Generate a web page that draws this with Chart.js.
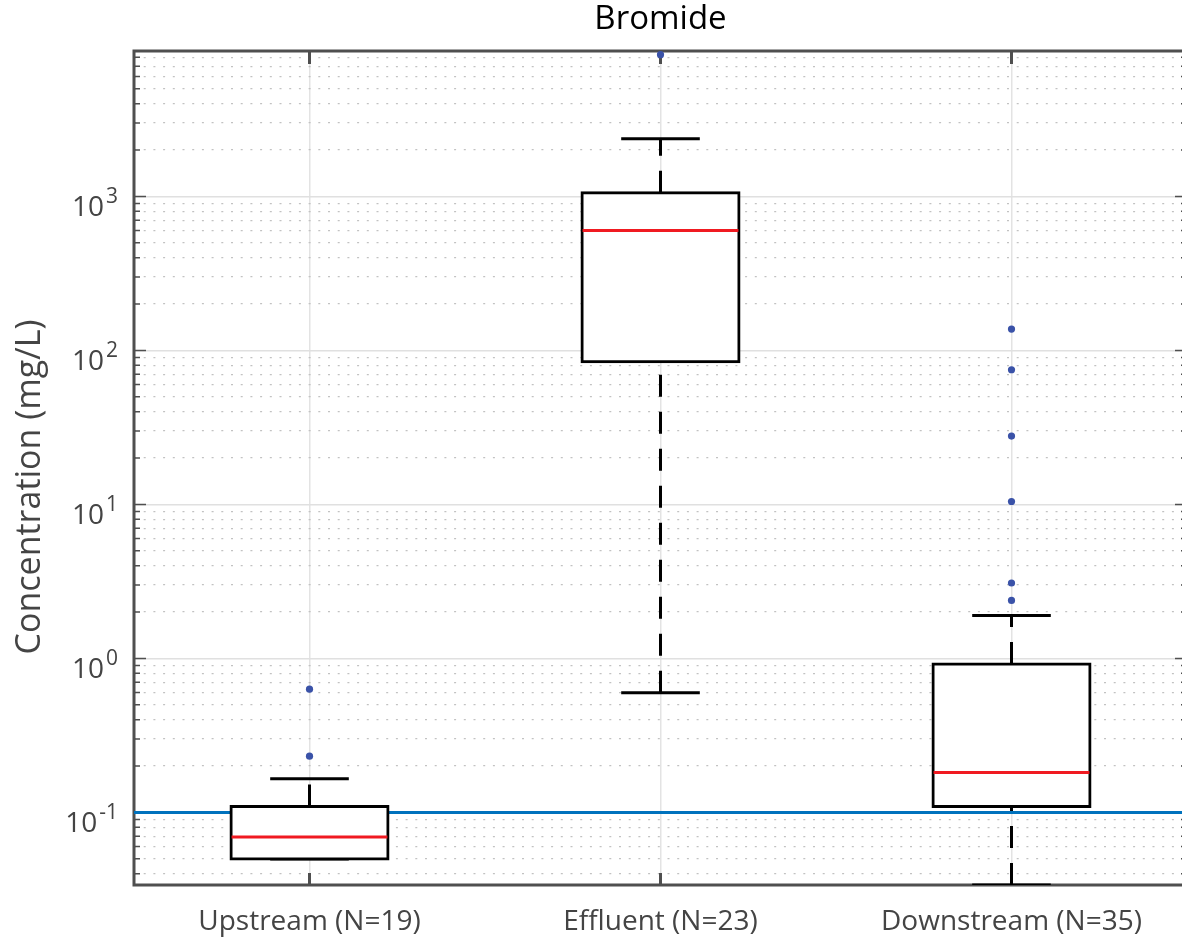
<!DOCTYPE html>
<html>
<head>
<meta charset="utf-8">
<title>Bromide</title>
<script src="https://cdn.jsdelivr.net/npm/chart.js@4/dist/chart.umd.min.js"></script>
<style>
  html, body { margin: 0; padding: 0; background: #fff; overflow: hidden; }
  #wrap { width: 1200px; height: 940px; }
</style>
</head>
<body>
<div id="wrap"><canvas id="chart" width="1200" height="940"></canvas></div>
<script>
// Sites and box-plot statistics, Bromide (mg/L)
const sites = ['Upstream (N=19)', 'Effluent (N=23)', 'Downstream (N=35)'];
const lowerWhisker = [0.0498, 0.598, 0.0338];
const q1 = [0.0498, 84.5, 0.1094];
const median = [0.0692, 601, 0.182];
const q3 = [0.1094, 1057, 0.920];
const upperWhisker = [0.1655, 2372, 1.90];
const outliers = [
    [0.632, 0.232],
    [8320],
    [137.7, 74.9, 27.8, 10.45, 3.09, 2.38]
];
const referenceLevel = 0.1;
const yMin = 0.0338;
const yMax = 8795;
const majorTicks = [0.1, 1, 10, 100, 1000];

const capHalf = 0.112;
const medianHalf = 0.222;

Chart.defaults.font.family = '"Open Sans", sans-serif';

function isMajor(v) {
    const l = Math.log10(v);
    return Math.abs(l - Math.round(l)) < 1e-9;
}

// build segment lists (null y breaks the line between segments)
const whiskerPts = [];
const capPts = [];
const medianPts = [];
const outlierPts = [];
sites.forEach((s, i) => {
    const x = i + 1;
    // drawn from low value to high value
    whiskerPts.push({x: x, y: lowerWhisker[i]}, {x: x, y: q1[i]}, {x: x, y: null});
    whiskerPts.push({x: x, y: q3[i]}, {x: x, y: upperWhisker[i]}, {x: x, y: null});
    capPts.push({x: x - capHalf, y: lowerWhisker[i]}, {x: x + capHalf, y: lowerWhisker[i]}, {x: x, y: null});
    capPts.push({x: x - capHalf, y: upperWhisker[i]}, {x: x + capHalf, y: upperWhisker[i]}, {x: x, y: null});
    medianPts.push({x: x - medianHalf, y: median[i]}, {x: x + medianHalf, y: median[i]}, {x: x, y: null});
    outliers[i].forEach(v => outlierPts.push({x: x, y: v}));
});

// frame and inward tick marks, MATLAB style
const framePlugin = {
    id: 'frame',
    beforeDatasetsDraw(chart) {
        const {ctx, chartArea: a, scales: {x, y}} = chart;
        ctx.save();
        ctx.strokeStyle = '#4f4f4f';
        ctx.lineWidth = 1.5;
        y.ticks.forEach(t => {
            const py = y.getPixelForValue(t.value);
            const len = isMajor(t.value) ? 12 : 6;
            ctx.beginPath();
            ctx.moveTo(a.left, py); ctx.lineTo(a.left + len, py);
            ctx.moveTo(a.right, py); ctx.lineTo(a.right - len, py);
            ctx.stroke();
        });
        ctx.lineWidth = 3;
        x.ticks.forEach(t => {
            const px = x.getPixelForValue(t.value);
            ctx.beginPath();
            ctx.moveTo(px, a.top); ctx.lineTo(px, a.top + 13);
            ctx.moveTo(px, a.bottom); ctx.lineTo(px, a.bottom - 12);
            ctx.stroke();
        });
        ctx.lineWidth = 3;
        ctx.strokeRect(a.left, a.top, a.right - a.left, a.bottom - a.top);
        ctx.restore();
    },
    afterDraw(chart) {
        const {ctx, scales: {y}} = chart;
        ctx.save();
        ctx.fillStyle = '#444';
        ctx.textAlign = 'right';
        ctx.textBaseline = 'alphabetic';
        majorTicks.forEach(v => {
            const py = y.getPixelForValue(v);
            const e = String(Math.round(Math.log10(v)));
            ctx.font = '21px "Open Sans", sans-serif';
            const w = ctx.measureText(e).width;
            ctx.fillText(e, 118, py + 6.5);
            ctx.font = '28px "Open Sans", sans-serif';
            ctx.fillText('10', 118 - w - 2, py + 19.5);
        });
        // y axis title
        ctx.translate(40, 487);
        ctx.rotate(-Math.PI / 2);
        ctx.textAlign = 'center';
        ctx.font = '34px "Open Sans", sans-serif';
        ctx.fillText('Concentration (mg/L)', 0, 0);
        ctx.restore();
    }
};

const ctx = document.getElementById('chart').getContext('2d');
const chart = new Chart(ctx, {
    type: 'bar',
    data: {
        datasets: [
            {
                type: 'line',
                label: 'Reference',
                data: [{x: 0.5, y: referenceLevel}, {x: 3.5, y: referenceLevel}],
                borderColor: '#0072BD',
                borderWidth: 3,
                pointRadius: 0,
                order: 6
            },
            {
                type: 'line',
                label: 'Whiskers',
                data: whiskerPts,
                borderColor: '#000000',
                borderWidth: 3,
                borderDash: [22, 15],
                borderCapStyle: 'butt',
                pointRadius: 0,
                spanGaps: false,
                order: 5
            },
            {
                type: 'line',
                label: 'Caps',
                data: capPts,
                borderColor: '#000000',
                borderWidth: 3,
                pointRadius: 0,
                spanGaps: false,
                order: 4
            },
            {
                type: 'bar',
                label: 'Box',
                data: sites.map((s, i) => ({x: i + 1, y: [q1[i], q3[i]]})),
                backgroundColor: '#ffffff',
                borderColor: '#000000',
                borderWidth: 3,
                borderSkipped: false,
                inflateAmount: 1.5,
                barThickness: 157,
                order: 3
            },
            {
                type: 'line',
                label: 'Median',
                data: medianPts,
                borderColor: '#f01a21',
                borderWidth: 3,
                pointRadius: 0,
                spanGaps: false,
                order: 2
            },
            {
                type: 'line',
                label: 'Outliers',
                data: outlierPts,
                showLine: false,
                pointRadius: 3.6,
                pointBackgroundColor: '#3a52a8',
                pointBorderWidth: 0,
                order: 1
            }
        ]
    },
    options: {
        responsive: false,
        animation: false,
        events: [],
        layout: { padding: { left: 0, right: 13, top: 0, bottom: 0 } },
        plugins: {
            legend: { display: false },
            tooltip: { enabled: false },
            title: {
                display: true,
                fullSize: false,
                text: 'Bromide',
                color: '#000',
                font: { size: 33, weight: 'normal' },
                padding: { top: 0, bottom: 11.4 }
            }
        },
        scales: {
            x: {
                type: 'linear',
                min: 0.5,
                max: 3.5,
                offset: false,
                afterBuildTicks: scale => {
                    scale.ticks = sites.map((s, i) => ({value: i + 1}));
                },
                afterFit: scale => { scale.height = 55; },
                ticks: {
                    callback: (v, i) => sites[i],
                    color: '#444',
                    font: { size: 28 },
                    padding: 20,
                    maxRotation: 0,
                    autoSkip: false
                },
                grid: { color: '#e3e3e3', lineWidth: 1.5, drawTicks: false, offset: false },
                border: { display: false }
            },
            y: {
                type: 'logarithmic',
                min: yMin,
                max: yMax,
                afterBuildTicks: scale => {
                    const t = [];
                    for (let k = -2; k <= 4; k++) {
                        for (let m = 1; m <= 9; m++) {
                            const v = m * Math.pow(10, k);
                            if (v >= scale.min && v <= scale.max) t.push({value: v});
                        }
                    }
                    scale.ticks = t;
                },
                afterFit: scale => { scale.width = 134; },
                ticks: { display: false },
                grid: {
                    drawTicks: false,
                    color: c => isMajor(c.tick.value) ? '#e0e0e0' : '#c2c2c2',
                    lineWidth: c => isMajor(c.tick.value) ? 1.5 : 1.2
                },
                border: {
                    display: false,
                    dash: c => (c.tick && !isMajor(c.tick.value)) ? [2, 7.7] : []
                }
            }
        }
    },
    plugins: [framePlugin]
});
</script>
</body>
</html>
